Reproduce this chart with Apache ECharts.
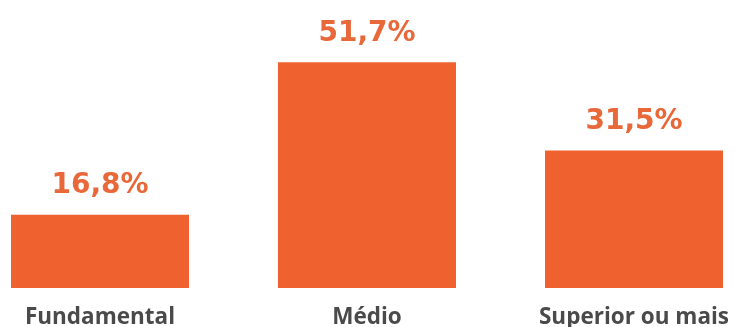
<!DOCTYPE html>
<html>
<head>
<meta charset="utf-8">
<script src="https://cdn.jsdelivr.net/npm/echarts@6/dist/echarts.min.js"></script>
<style>
  html, body { margin: 0; padding: 0; background: #ffffff; }
  #chart { width: 735px; height: 327px; }
</style>
</head>
<body>
<div id="chart"></div>
<script>
// Escolaridade: share of each schooling level (%)
const categories = ['Fundamental', 'Médio', 'Superior ou mais'];
const values = [16.8, 51.7, 31.5];

const barColor = '#ef622f';
const labelColor = '#e9683a';

const chart = echarts.init(document.getElementById('chart'));
chart.setOption({
  animation: false,
  grid: { left: 100, right: 101, top: 26, bottom: 39, outerBoundsMode: 'none', containLabel: false },
  xAxis: {
    type: 'category',
    data: categories,
    boundaryGap: false,
    axisLine: { show: false },
    axisTick: { show: false },
    axisLabel: {
      margin: 18,
      color: '#4a4a4a',
      fontFamily: 'Open Sans',
      fontWeight: 700,
      fontSize: 22.5
    }
  },
  yAxis: {
    type: 'value',
    min: 0,
    max: 60,
    show: false,
    splitLine: { show: false }
  },
  series: [{
    type: 'bar',
    data: values,
    barWidth: 178,
    clip: false,
    itemStyle: { color: barColor },
    label: {
      show: true,
      position: 'top',
      distance: 15,
      color: labelColor,
      fontFamily: 'DejaVu Sans',
      fontWeight: 'bold',
      fontSize: 28,
      formatter: p => p.value.toFixed(1).replace('.', ',') + '%'
    }
  }]
});
</script>
</body>
</html>
